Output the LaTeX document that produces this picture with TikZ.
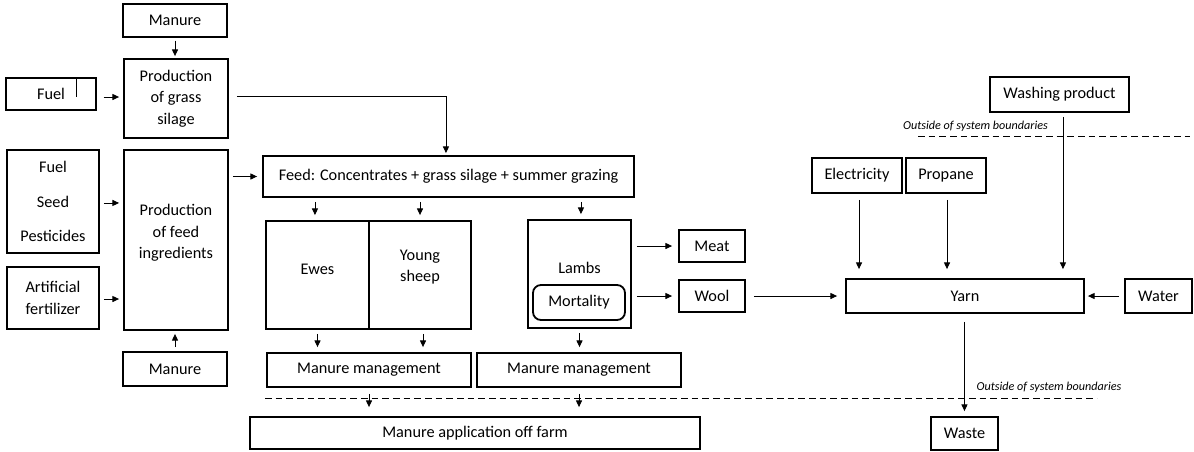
\documentclass[tikz,border=0pt]{standalone}
\usepackage{fontspec}
\setmainfont{Carlito}
\usetikzlibrary{arrows.meta,calc}
\begin{document}
\begin{tikzpicture}[x=0.75pt,y=-0.75pt,
  box/.style={draw, line width=1.35pt, inner sep=0pt, align=center, font=\fontsize{12.2}{16}\selectfont},
  txt/.style={inner sep=0pt, align=center, font=\fontsize{12.2}{16}\selectfont},
  sz/.style n args={2}{minimum width=#1*0.75pt, minimum height=#2*0.75pt},
  arr/.style={line width=0.7pt, -{Triangle[length=5pt,width=4.5pt]}},
  bnd/.style={line width=0.6pt, dash pattern=on 5pt off 3pt},
  lbl/.style={inner sep=0pt, font=\fontsize{9.1}{11}\selectfont\itshape}]
\useasboundingbox (0,0) rectangle (1194,451);
% left column
\node[box, sz={104}{33}] (man1) at (175,20.5) {Manure};
\node[box, sz={104}{79}] (silage) at (176,98.5) {Production\\of grass\\silage};
\node[box, sz={90}{32}] (fuel1) at (51,94) {Fuel};
\draw[line width=0.6pt] (76,78) -- (76,97);
\node[box, sz={92}{103}] (fsp) at (53,201.5) {Fuel\\[10pt]Seed\\[10pt]Pesticides};
\node[box, sz={92}{62}] (artf) at (53,298) {Artificial\\fertilizer};
\node[box, sz={104}{180}] (feeding) at (176,240) {};
\node[txt] (feedingtxt) at (176,233) {Production\\of feed\\ingredients};
\node[box, sz={104}{34}] (man2) at (175,369) {Manure};
% middle
\node[box, sz={371}{41}] (feed) at (448.5,176.5) {Feed: Concentrates + grass silage + summer grazing};
\node[box, sz={103}{108}] (ewes) at (317.5,275) {};
\node[txt] (ewestxt) at (317.5,269) {Ewes};
\node[box, sz={102}{108}] (young) at (420,275) {};
\node[txt] (youngtxt) at (420,267) {Young\\sheep};
\node[box, sz={103}{108}] (lambs) at (579.5,274) {};
\node[txt] (lambstxt) at (579.5,268) {Lambs};
\node[box, rounded corners=6pt, sz={92}{35}] (mort) at (579,302.5) {Mortality};
\node[box, sz={66}{32}] (meat) at (712,246) {Meat};
\node[box, sz={66}{32}] (wool) at (712,296) {Wool};
\node[box, sz={204}{34}] (mm1) at (369,370) {Manure management};
\node[box, sz={204}{34}] (mm2) at (579,370) {Manure management};
\node[box, sz={450}{32}] (maf) at (475,433) {Manure application off farm};
% right
\node[box, sz={139}{35}] (wash) at (1059.5,94.5) {Washing product};
\node[box, sz={90}{35}] (elec) at (857,175.5) {Electricity};
\node[box, sz={80}{35}] (prop) at (946,175.5) {Propane};
\node[box, sz={238}{34}] (yarn) at (965,296) {Yarn};
\node[box, sz={67}{34}] (water) at (1158.5,296) {Water};
\node[box, sz={67}{33}] (waste) at (964.5,433.5) {Waste};
% boundaries
\coordinate (b1a) at (918,136);
\coordinate (b1b) at (1190,136);
\coordinate (b2a) at (265,398);
\coordinate (b2b) at (1097,398);
\draw[bnd] (b1a) -- (b1b);
\draw[bnd] (b2a) -- (b2b);
\node[lbl] (lbl1) at (975.5,126) {Outside of system boundaries};
\node[lbl] (lbl2) at (1049,387) {Outside of system boundaries};
% arrows
\draw[arr, shorten <=2pt, shorten >=1.5pt] (man1.south) -- (man1.south |- silage.north);
\draw[arr, shorten <=5pt, shorten >=3pt] ([yshift=-2.25pt]fuel1.east) -- ([yshift=-2.25pt]fuel1.east -| silage.west);
\draw[arr, shorten <=6pt, shorten >=1.5pt] ([yshift=1.9pt]silage.east) -| ([xshift=-1.9pt]feed.north);
\draw[arr, shorten <=3pt, shorten >=3pt] ([yshift=-1.1pt]fsp.east) -- ([yshift=-1.1pt]fsp.east -| feeding.west);
\draw[arr, shorten <=3pt, shorten >=3pt] ([yshift=-0.75pt]artf.east) -- ([yshift=-0.75pt]artf.east -| feeding.west);
\draw[arr, shorten <=3pt, shorten >=2.25pt] (man2.north) -- (man2.north |- feeding.south);
\draw[arr, shorten <=3pt, shorten >=3.75pt] (feeding.east |- feed.west) -- (feed.west);
\draw[arr, shorten <=3pt, shorten >=3.75pt] ([xshift=-1.9pt]feed.south -| ewes.north) -- ([xshift=-1.9pt]ewes.north);
\draw[arr, shorten <=3pt, shorten >=3.75pt] (feed.south -| young.north) -- (young.north);
\draw[arr, shorten <=3pt, shorten >=3.75pt] ([xshift=1.1pt]feed.south -| lambs.north) -- ([xshift=1.1pt]lambs.north);
\draw[arr, shorten <=3pt, shorten >=3.75pt] (ewes.south) -- (ewes.south |- mm1.north);
\draw[arr, shorten <=3pt, shorten >=3.75pt] ([xshift=2.25pt]young.south) -- ([xshift=2.25pt]young.south |- mm1.north);
\draw[arr, shorten <=3pt, shorten >=3.75pt] (lambs.south) -- (lambs.south |- mm2.north);
\draw[arr, shorten <=3.75pt, shorten >=4.5pt] (lambs.east |- meat.west) -- (meat.west);
\draw[arr, shorten <=3.75pt, shorten >=4.5pt] (lambs.east |- wool.west) -- (wool.west);
\draw[arr, shorten <=6pt, shorten >=6pt] (wool.east) -- (wool.east -| yarn.west);
\draw[arr, shorten <=4.5pt, shorten >=6.75pt] ([xshift=1.5pt]elec.south) -- ([xshift=1.5pt]elec.south |- yarn.north);
\draw[arr, shorten <=4.5pt, shorten >=6.75pt] ([xshift=0.75pt]prop.south) -- ([xshift=0.75pt]prop.south |- yarn.north);
\draw[arr, shorten <=3pt, shorten >=6.75pt] ([xshift=2.6pt]wash.south) -- ([xshift=2.6pt]wash.south |- yarn.north);
\draw[arr, shorten <=3.75pt, shorten >=2.25pt] (water.west) -- (water.west -| yarn.east);
\draw[arr, shorten <=6pt, shorten >=3.75pt] ([xshift=-0.4pt]yarn.south) -- ([xshift=-0.4pt]yarn.south |- waste.north);
\draw[arr, shorten <=4.5pt, shorten >=6.75pt] (mm1.south) -- (mm1.south |- maf.north);
\draw[arr, shorten <=4.5pt, shorten >=6.75pt] (mm2.south) -- (mm2.south |- maf.north);
\end{tikzpicture}
\end{document}
